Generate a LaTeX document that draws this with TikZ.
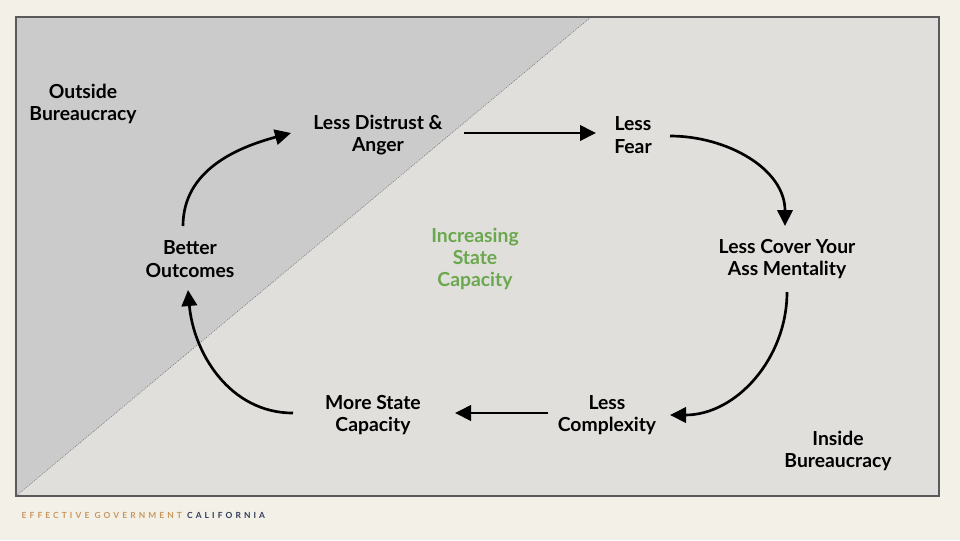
\documentclass[tikz,border=0pt]{standalone}
\usepackage{fontspec}
\setmainfont{Lato}
\usepackage{tikz}
\usetikzlibrary{arrows.meta}
\definecolor{paper}{HTML}{F3F0E8}
\definecolor{inside}{HTML}{E0DFDB}
\definecolor{outside}{HTML}{CBCBCB}
\definecolor{frame}{HTML}{5A5A5A}
\definecolor{capgreen}{HTML}{6AA84F}
\definecolor{egtan}{HTML}{C9965C}
\definecolor{egnavy}{HTML}{2F3A5A}

\begin{document}
\begin{tikzpicture}[x=0.75pt, y=-0.75pt,
  label/.style={align=center, font=\bfseries\fontsize{14.5}{16.8}\selectfont, text=black},
  flow/.style={-{Triangle[length=12pt,width=11.5pt]}, line width=2pt}]
\useasboundingbox [fill=paper] (0,0) rectangle (960,540);
\fill [inside] (16,17) rectangle (939,496);
\fill [outside] (16,17) -- (591,17) -- (16,496) -- cycle;
\draw [gray, densely dotted, line width=0.6pt] (16,496) -- (591,17);
\draw [frame, line width=1pt] (16,17) rectangle (939,496);

\node [label] (outb) at (83,104) {Outside\\Bureaucracy};
\node [label] (inb)  at (838,451) {Inside\\Bureaucracy};
\node [label, text=capgreen] (inc) at (475,259) {Increasing\\State\\Capacity};

\node [label] (dist) at (378,135) {Less Distrust \&\\Anger};
\node [label] (fear) at (633,135) {Less\\Fear};
\node [label] (cya)  at (787,259) {Less Cover Your\\Ass Mentality};
\node [label] (cplx) at (607,415) {Less\\Complexity};
\node [label] (more) at (373,415) {More State\\Capacity};
\node [label] (bett) at (190,259) {Better\\Outcomes};

\draw [flow] (464,133) -- (596,133);
\draw [flow] (670,136) to [out=0, in=90] (785,226);
\draw [flow] (787,292) to [out=-90, in=0] (670,415);
\draw [flow] (548,413) -- (455,413);
\draw [flow] (293,413) to [out=180, in=-85] (188,290);
\draw [flow] (183,226) to [out=90, in=195] (291,133);

\node [anchor=west, font=\bfseries\fontsize{6.3}{8}\selectfont] (brand) at (17,515)
  {\addfontfeature{LetterSpace=37}\textcolor{egtan}{EFFECTIVE GOVERNMENT} \textcolor{egnavy}{CALIFORNIA}};
\end{tikzpicture}
\end{document}
